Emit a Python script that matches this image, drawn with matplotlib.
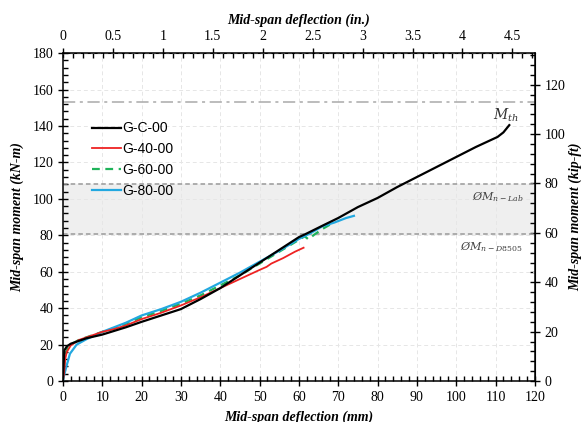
import matplotlib
matplotlib.use("Agg")
import matplotlib.pyplot as plt
from matplotlib.ticker import MultipleLocator, FuncFormatter

# === DATA ===
gc_x = [0, 0.2, 0.4, 1, 2, 4, 6, 8, 10, 13, 16, 20, 25, 30, 35, 40, 45, 50, 55,
        60, 62, 66.2, 70, 75, 80, 85, 90, 95, 100, 105, 108, 110.5, 112, 113.5]
gc_y = [0, 10, 17, 19, 20.5, 22, 23.5, 24.5, 25.5, 27.5, 29.5, 32.5, 36, 39.5, 45, 51, 58, 65, 72,
        79, 81, 85.5, 89.5, 95.5, 100.5, 106.5, 112, 117.5, 123, 128.5, 131.5, 134, 136.5, 140.5]

g40_x = [0, 0.3, 0.6, 1, 2, 4, 6, 8, 10, 13, 16, 20, 25, 30, 35, 40, 45, 50, 51.8, 53, 56, 59, 61.2]
g40_y = [0, 4, 12, 16, 19.5, 22.5, 24, 25.5, 27, 28.5, 30.5, 34, 37.5, 41.5, 46, 51, 56, 61, 62.7,
         64.5, 67.5, 71, 73.2]

g60_x = [0, 0.3, 0.7, 1.2, 2, 4, 6, 8, 10, 13, 16, 20, 25, 30, 35, 40, 45, 50, 55, 60, 61.5,
         62.4, 64, 66, 68]
g60_y = [0, 8, 15, 18, 20, 22.5, 24, 25.5, 27, 29, 31.5, 35, 38.5, 42.5, 47, 52.5, 58, 64.5, 71,
         77.5, 79.5, 77.8, 80.5, 83.5, 86]

g80_x = [0, 0.3, 0.9, 1.8, 3.5, 6, 8, 10, 13, 16, 20, 25, 30, 35, 40, 45, 50, 55, 60, 62.8,
         66, 69, 72, 74]
g80_y = [0, 3, 8, 15, 20, 23, 25, 27, 29.5, 32, 36, 39.5, 43.5, 48.5, 54, 59.5, 65.5, 71.5, 78,
         81, 85, 87, 89.5, 90.7]

m_th = 153
m_lab = 108
m_d8505 = 81

KNM_PER_KIPFT = 1.3558
MM_PER_IN = 25.4

# === PLOT ===
serif = ["Liberation Serif", "DejaVu Serif"]
plt.rcParams["font.family"] = serif
plt.rcParams["mathtext.fontset"] = "dejavuserif"

fig = plt.figure(figsize=(5.82, 4.22), dpi=100)
ax = fig.add_axes([0.108, 0.097, 0.811, 0.777])

ax.axhspan(m_d8505, m_lab, color="#efefef", zorder=0)
ax.axhline(m_lab, color="#999999", ls=(0, (3, 2)), lw=1.1, zorder=1)
ax.axhline(m_d8505, color="#999999", ls=(0, (3, 2)), lw=1.1, zorder=1)
ax.axhline(m_th, color="#aaaaaa", ls=(0, (8, 3, 2, 3)), lw=1.1, zorder=1)

ax.plot(gc_x, gc_y, color="black", lw=1.6, label="G-C-00", zorder=5)
ax.plot(g40_x, g40_y, color="#ee2222", lw=1.3, label="G-40-00", zorder=4)
ax.plot(g60_x, g60_y, color="#1fb35a", lw=1.6, ls=(0, (3.5, 2.5)), label="G-60-00", zorder=3)
ax.plot(g80_x, g80_y, color="#22a8e0", lw=1.6, label="G-80-00", zorder=3)

ax.set_xlim(0, 120)
ax.set_ylim(0, 180)
ax.xaxis.set_major_locator(MultipleLocator(10))
ax.xaxis.set_minor_locator(MultipleLocator(2))
ax.yaxis.set_major_locator(MultipleLocator(20))
ax.yaxis.set_minor_locator(MultipleLocator(4))
ax.grid(True, which="major", color="#e6e6e6", ls=(0, (4, 3)), lw=0.7)
ax.set_axisbelow(True)
ax.tick_params(which="major", direction="inout", length=7, width=1, labelsize=10)
ax.tick_params(which="minor", direction="in", length=3.5, width=1)
for sp in ax.spines.values():
    sp.set_linewidth(1.1)

ax.set_xlabel("Mid-span deflection (mm)", fontsize=10, fontweight="bold", style="italic", labelpad=5)
ax.set_ylabel("Mid-span moment (kN-m)", fontsize=10, fontweight="bold", style="italic", labelpad=6)

fmt = FuncFormatter(lambda v, p: "%g" % round(v, 3))

top = ax.secondary_xaxis("top", functions=(lambda v: v / MM_PER_IN, lambda v: v * MM_PER_IN))
top.xaxis.set_major_locator(MultipleLocator(0.5))
top.xaxis.set_minor_locator(MultipleLocator(0.1))
top.xaxis.set_major_formatter(fmt)
top.tick_params(which="major", direction="inout", length=7, width=1, labelsize=10)
top.tick_params(which="minor", direction="in", length=3.5, width=1)
top.set_xlabel("Mid-span deflection (in.)", fontsize=10, fontweight="bold", style="italic", labelpad=5)

right = ax.secondary_yaxis("right", functions=(lambda v: v / KNM_PER_KIPFT, lambda v: v * KNM_PER_KIPFT))
right.yaxis.set_major_locator(MultipleLocator(20))
right.yaxis.set_minor_locator(MultipleLocator(4))
right.tick_params(which="major", direction="inout", length=7, width=1, labelsize=10)
right.tick_params(which="minor", direction="in", length=3.5, width=1)
right.set_ylabel("Mid-span moment (kip-ft)", fontsize=10, fontweight="bold", style="italic", labelpad=2)

ax.text(116, 146, r"$M_{th}$", ha="right", va="center", fontsize=10, color="#333333")
ax.text(117, 101, r"$\O M_{n-Lab}$", ha="right", va="center", fontsize=8, color="#444444")
ax.text(117, 74, r"$\O M_{n-D8505}$", ha="right", va="center", fontsize=8, color="#444444")

leg = ax.legend(loc="upper left", bbox_to_anchor=(0.035, 0.83), frameon=False,
                prop={"family": ["Liberation Sans", "DejaVu Sans"], "size": 10},
                handlelength=2.1, handletextpad=0.1, labelspacing=0.5)

fig.savefig("out.png", dpi=100)
